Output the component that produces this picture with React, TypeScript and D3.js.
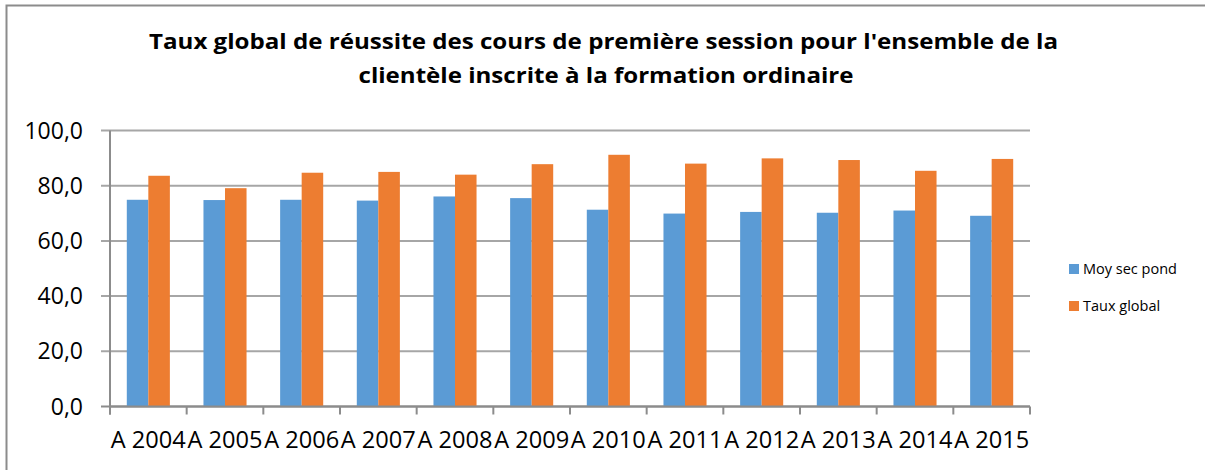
import * as d3 from 'd3';
import { useEffect, useRef } from 'react';

const categories = [
  'A 2004', 'A 2005', 'A 2006', 'A 2007', 'A 2008', 'A 2009',
  'A 2010', 'A 2011', 'A 2012', 'A 2013', 'A 2014', 'A 2015',
];
const moySecPond = [74.9, 74.8, 74.9, 74.6, 76.1, 75.5, 71.3, 69.9, 70.5, 70.2, 71.0, 69.1];
const tauxGlobal = [83.6, 79.1, 84.7, 85.0, 84.0, 87.8, 91.2, 88.0, 89.9, 89.3, 85.4, 89.7];
const seriesNames = ['Moy sec pond', 'Taux global'];
const yTicks = [0, 20, 40, 60, 80, 100];
const titleLines = [
  "Taux global de réussite des cours de première session pour l'ensemble de la",
  'clientèle inscrite à la formation ordinaire',
];

const WIDTH = 1205;
const HEIGHT = 470;
const COLORS = ['#5B9BD5', '#ED7D31'];
const FONT = "'Open Sans', 'Liberation Sans', sans-serif";

export default function App() {
  const svgRef = useRef<SVGSVGElement | null>(null);

  useEffect(() => {
    if (!svgRef.current) return;
    const svg = d3.select(svgRef.current);
    svg.selectAll('*').remove();

    const plot = { left: 110, right: 1030, top: 130.5, bottom: 406.5 };

    const x = d3.scaleBand<string>().domain(categories).range([plot.left, plot.right]).padding(0);
    const inner = d3
      .scaleBand<string>()
      .domain(seriesNames)
      .range([0, x.bandwidth()])
      .paddingInner(0)
      .paddingOuter(0.78);
    const y = d3.scaleLinear().domain([0, 100]).range([plot.bottom, plot.top]);

    // chart frame (only top and left edges visible)
    svg
      .append('path')
      .attr('d', `M6.5,${HEIGHT} V5.5 H${WIDTH}`)
      .attr('fill', 'none')
      .attr('stroke', '#8c8c8c')
      .attr('stroke-width', 2);

    // title
    const titleY = [49, 83];
    const titleCx = [603.5, 606];
    const titleLen = [909, 495];
    titleLines.forEach((line, i) => {
      svg
        .append('text')
        .attr('x', titleCx[i])
        .attr('y', titleY[i])
        .attr('text-anchor', 'middle')
        .attr('font-family', FONT)
        .attr('font-weight', 700)
        .attr('font-size', 22)
        .attr('textLength', titleLen[i])
        .attr('lengthAdjust', 'spacingAndGlyphs')
        .attr('fill', '#000')
        .text(line);
    });

    // gridlines + y ticks
    const grid = svg.append('g');
    yTicks.forEach((t) => {
      grid
        .append('line')
        .attr('x1', plot.left - 9)
        .attr('x2', plot.right)
        .attr('y1', y(t))
        .attr('y2', y(t))
        .attr('stroke', t === 0 ? '#8c8c8c' : '#a6a6a6')
        .attr('stroke-width', 2);
      grid
        .append('text')
        .attr('x', 83)
        .attr('y', y(t) + 8)
        .attr('text-anchor', 'end')
        .attr('font-family', FONT)
        .attr('font-size', 23)
        .attr('fill', '#000')
        .text(d3.format('.1f')(t).replace('.', ','));
    });

    // bars
    const seriesData = [moySecPond, tauxGlobal];
    seriesData.forEach((values, si) => {
      svg
        .append('g')
        .selectAll('rect')
        .data(values)
        .join('rect')
        .attr('x', (_, i) => (x(categories[i]) ?? 0) + (inner(seriesNames[si]) ?? 0))
        .attr('y', (d) => y(d))
        .attr('width', inner.bandwidth())
        .attr('height', (d) => plot.bottom - y(d))
        .attr('fill', COLORS[si]);
    });

    // axes lines
    svg
      .append('line')
      .attr('x1', plot.left)
      .attr('x2', plot.left)
      .attr('y1', plot.top)
      .attr('y2', plot.bottom + 8)
      .attr('stroke', '#8c8c8c')
      .attr('stroke-width', 2);
    svg
      .append('line')
      .attr('x1', plot.left)
      .attr('x2', plot.right)
      .attr('y1', plot.bottom)
      .attr('y2', plot.bottom)
      .attr('stroke', '#8c8c8c')
      .attr('stroke-width', 2);

    // x ticks at category boundaries
    const boundaries = categories.map((c) => x(c) ?? 0).concat([plot.right]);
    svg
      .append('g')
      .selectAll('line')
      .data(boundaries)
      .join('line')
      .attr('x1', (d) => d)
      .attr('x2', (d) => d)
      .attr('y1', plot.bottom)
      .attr('y2', plot.bottom + 8)
      .attr('stroke', '#8c8c8c')
      .attr('stroke-width', 2);

    // x labels
    svg
      .append('g')
      .selectAll('text')
      .data(categories)
      .join('text')
      .attr('x', (d) => (x(d) ?? 0) + x.bandwidth() / 2)
      .attr('y', 448)
      .attr('text-anchor', 'middle')
      .attr('font-family', FONT)
      .attr('font-size', 24.5)
      .attr('textLength', 75)
      .attr('lengthAdjust', 'spacingAndGlyphs')
      .attr('fill', '#000')
      .text((d) => d);

    // legend
    const legendY = [264, 301];
    const legend = svg.append('g');
    seriesNames.forEach((name, i) => {
      legend
        .append('rect')
        .attr('x', 1069)
        .attr('y', legendY[i])
        .attr('width', 10)
        .attr('height', 10)
        .attr('fill', COLORS[i]);
      legend
        .append('text')
        .attr('x', 1083)
        .attr('y', legendY[i] + 10)
        .attr('font-family', FONT)
        .attr('font-size', 14.5)
        .attr('fill', '#000')
        .text(name);
    });
  }, []);

  return (
    <div style={{ position: 'absolute', left: 0, top: 0, width: WIDTH, height: HEIGHT, background: '#fff' }}>
      <svg ref={svgRef} width={WIDTH} height={HEIGHT} style={{ display: 'block' }} />
    </div>
  );
}
